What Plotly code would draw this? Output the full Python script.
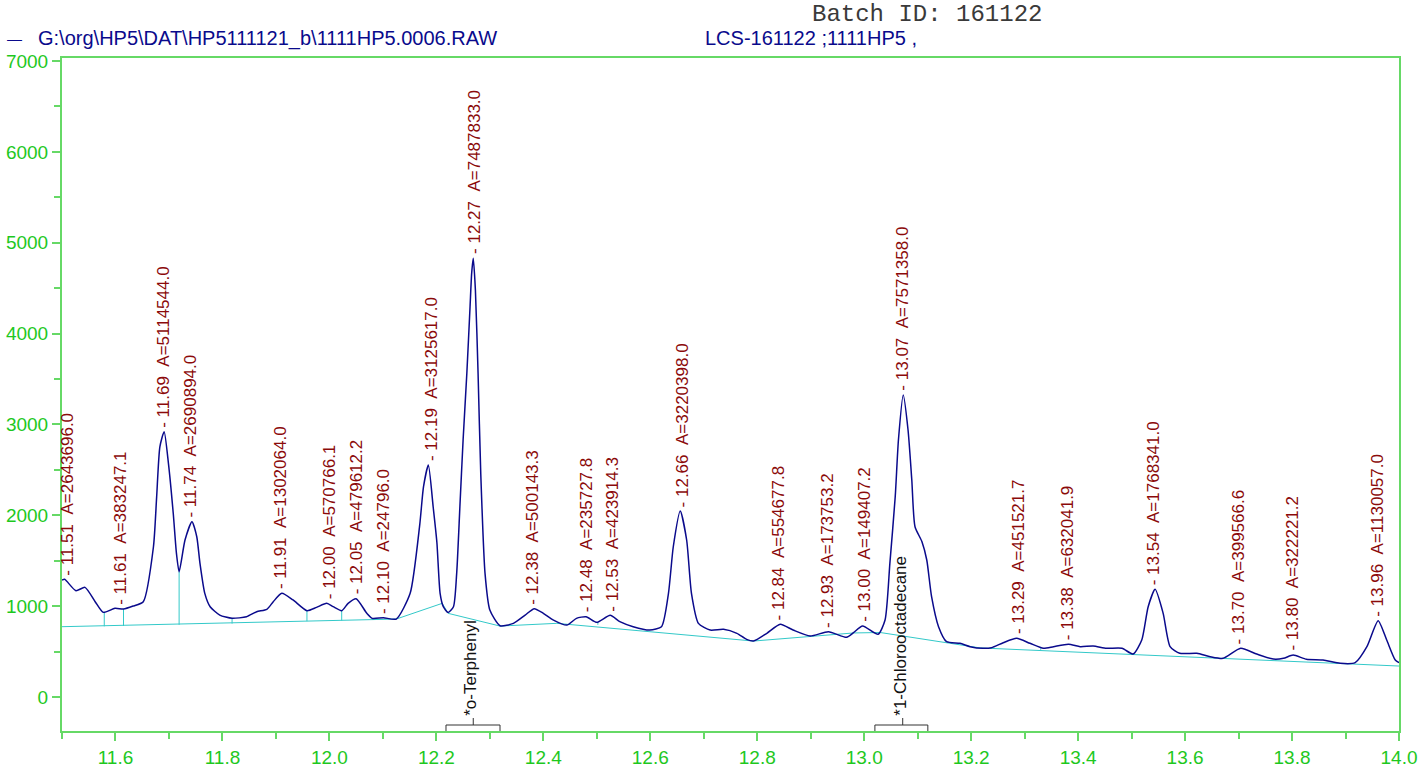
import plotly.graph_objects as go

# ---------------- data ----------------
time = [11.500, 11.505, 11.526, 11.543, 11.562, 11.577, 11.599, 11.615, 11.633, 11.652,
        11.671, 11.677, 11.683, 11.691, 11.699, 11.708, 11.714, 11.719, 11.730, 11.743,
        11.752, 11.758, 11.767, 11.777, 11.795, 11.818, 11.845, 11.864, 11.883, 11.895,
        11.911, 11.932, 11.958, 11.976, 11.995, 12.007, 12.023, 12.035, 12.050, 12.070,
        12.080, 12.101, 12.125, 12.151, 12.169, 12.176, 12.185, 12.194, 12.201, 12.207,
        12.213, 12.222, 12.232, 12.238, 12.244, 12.250, 12.257, 12.263, 12.266, 12.269,
        12.273, 12.278, 12.283, 12.291, 12.300, 12.319, 12.344, 12.366, 12.383, 12.400,
        12.419, 12.444, 12.462, 12.480, 12.500, 12.525, 12.543, 12.568, 12.599, 12.621,
        12.634, 12.643, 12.656, 12.668, 12.677, 12.690, 12.712, 12.737, 12.762, 12.780,
        12.793, 12.818, 12.843, 12.867, 12.899, 12.933, 12.967, 12.980, 12.997, 13.026,
        13.039, 13.048, 13.058, 13.064, 13.073, 13.082, 13.089, 13.095, 13.108, 13.117,
        13.126, 13.139, 13.154, 13.179, 13.198, 13.222, 13.238, 13.260, 13.285, 13.310,
        13.335, 13.354, 13.382, 13.404, 13.428, 13.453, 13.482, 13.503, 13.519, 13.531,
        13.544, 13.559, 13.572, 13.590, 13.622, 13.647, 13.671, 13.704, 13.734, 13.765,
        13.784, 13.802, 13.827, 13.858, 13.890, 13.918, 13.940, 13.961, 13.977, 13.993,
        14.000]
signal = [1287, 1295, 1170, 1207, 1049, 932, 976, 968, 1001, 1049,
          1654, 2204, 2754, 2920, 2572, 2022, 1581, 1379, 1728, 1930,
          1764, 1471, 1141, 994, 902, 866, 884, 939, 965, 1049,
          1141, 1068, 950, 987, 1031, 994, 950, 1031, 1082, 921,
          866, 873, 858, 1141, 1900, 2315, 2553, 2094, 1700, 1141,
          994, 930, 994, 1361, 2094, 2829, 3563, 4296, 4663, 4830,
          4479, 3563, 2462, 1361, 957, 785, 811, 902, 972, 921,
          847, 792, 866, 884, 822, 899, 829, 774, 737, 774,
          1141, 1654, 2047, 1728, 1141, 811, 737, 745, 701, 635,
          616, 701, 800, 737, 671, 719, 657, 708, 781, 690,
          847, 1471, 2204, 2829, 3324, 2939, 2388, 1874, 1709, 1508,
          1104, 774, 609, 591, 554, 536, 543, 598, 646, 591,
          536, 554, 580, 554, 561, 536, 536, 473, 627, 994,
          1185, 921, 554, 481, 481, 444, 426, 536, 473, 418,
          426, 462, 415, 407, 371, 378, 554, 840, 627, 407,
          378]

base_time = [11.500, 12.125, 12.211, 12.222, 12.319, 12.425, 12.793, 12.899, 12.980, 13.030, 13.217, 14.000]
base_signal = [774, 858, 1031, 921, 781, 811, 616, 664, 705, 710, 540, 341]

drop_time = [11.579, 11.615, 11.719, 11.818, 11.958, 12.023, 12.502, 12.899, 13.330, 13.770]
drop_top = [932, 968, 1379, 866, 950, 950, 822, 671, 536, 418]
drop_bottom = [778, 782, 795, 808, 835, 842, 795, 664, 520, 405]

peak_rt = [11.51, 11.61, 11.69, 11.74, 11.91, 12.00, 12.05, 12.10, 12.19, 12.27, 12.38, 12.48,
           12.53, 12.66, 12.84, 12.93, 13.00, 13.07, 13.29, 13.38, 13.54, 13.70, 13.80, 13.96]
peak_area = ["2643696.0", "383247.1", "5114544.0", "2690894.0", "1302064.0", "570766.1",
             "479612.2", "24796.0", "3125617.0", "7487833.0", "500143.3", "235727.8",
             "423914.3", "3220398.0", "554677.8", "173753.2", "149407.2", "7571358.0",
             "451521.7", "632041.9", "1768341.0", "399566.6", "322221.2", "1130057.0"]
peak_height = [1290, 975, 2920, 1930, 1141, 1031, 1082, 873, 2553, 4830, 972, 884,
               899, 2047, 800, 719, 781, 3324, 646, 580, 1185, 536, 462, 840]

compound_names = ["*o-Terphenyl", "*1-Chlorooctadecane"]
compound_rt = [12.269, 13.072]
compound_start = [12.218, 13.020]
compound_end = [12.319, 13.119]

x_ticks = [11.6, 11.8, 12.0, 12.2, 12.4, 12.6, 12.8, 13.0, 13.2, 13.4, 13.6, 13.8, 14.0]
y_ticks = [0, 1000, 2000, 3000, 4000, 5000, 6000, 7000]

header_file = "G:\\org\\HP5\\DAT\\HP5111121_b\\1111HP5.0006.RAW"
header_sample = "LCS-161122 ;1111HP5 ,"
header_batch = "Batch ID: 161122"

# ---------------- styling ----------------
W, H = 1426, 770
L, R, T, B = 62, 27, 58, 39
X_RANGE = [11.5, 14.0]
Y_RANGE = [-374, 7033]
AXIS_GREEN = "#66d966"
LABEL_GREEN = "#1ec81e"
NAVY = "#0a0a8c"
CYAN = "#33c9c9"
DARKRED = "#8b0a0a"
SANS = "Liberation Sans, Arial, sans-serif"

def px_to_paper_x(px):
    return (px - L) / (W - L - R)

def px_to_paper_y(py):
    return (H - B - py) / (H - T - B)

def px_to_data_y(py):
    plot_h = H - T - B
    return Y_RANGE[1] - (py - T) / plot_h * (Y_RANGE[1] - Y_RANGE[0])

fig = go.Figure()

# baseline
fig.add_trace(go.Scatter(x=base_time, y=base_signal, mode="lines",
                         line=dict(color=CYAN, width=1), hoverinfo="skip", showlegend=False))

# drop lines
dx, dy = [], []
for t, top, bot in zip(drop_time, drop_top, drop_bottom):
    dx += [t, t, None]
    dy += [bot, top, None]
fig.add_trace(go.Scatter(x=dx, y=dy, mode="lines",
                         line=dict(color=CYAN, width=1), hoverinfo="skip", showlegend=False))

# chromatogram
fig.add_trace(go.Scatter(x=time, y=signal, mode="lines",
                         line=dict(color=NAVY, width=1.5, shape="spline", smoothing=0.6),
                         showlegend=False))

annotations = []
for rt, area, h in zip(peak_rt, peak_area, peak_height):
    annotations.append(dict(
        x=rt, y=h, xref="x", yref="y", text=f"- {rt:.2f}\u00a0\u00a0A={area}",
        textangle=-90, xanchor="center", yanchor="bottom", showarrow=False,
        yshift=2, font=dict(family=SANS, size=17, color=DARKRED)))

shapes = []
y_brk = px_to_data_y(725)
y_axis_bot = Y_RANGE[0]
y_tick_top = px_to_data_y(718)
for name, rt, s, e in zip(compound_names, compound_rt, compound_start, compound_end):
    line = dict(color="#333333", width=1)
    shapes.append(dict(type="line", x0=s, x1=e, y0=y_brk, y1=y_brk, xref="x", yref="y", line=line))
    shapes.append(dict(type="line", x0=s, x1=s, y0=y_brk, y1=y_axis_bot, xref="x", yref="y", line=line))
    shapes.append(dict(type="line", x0=e, x1=e, y0=y_brk, y1=y_axis_bot, xref="x", yref="y", line=line))
    shapes.append(dict(type="line", x0=rt, x1=rt, y0=y_brk, y1=y_tick_top, xref="x", yref="y", line=line))
    annotations.append(dict(
        x=rt, y=y_tick_top, xref="x", yref="y", text=name, textangle=-90,
        xanchor="center", yanchor="bottom", showarrow=False, xshift=-3, yshift=0,
        font=dict(family=SANS, size=17, color="#111111")))

# header texts
annotations.append(dict(x=px_to_paper_x(5), y=px_to_paper_y(38), xref="paper", yref="paper",
                        text="\u2014", xanchor="left", yanchor="middle",
                        showarrow=False, font=dict(family=SANS, size=15, color=NAVY)))
annotations.append(dict(x=px_to_paper_x(36), y=px_to_paper_y(38), xref="paper", yref="paper",
                        text=header_file, xanchor="left", yanchor="middle",
                        showarrow=False, font=dict(family=SANS, size=20, color=NAVY)))
annotations.append(dict(x=px_to_paper_x(703), y=px_to_paper_y(38), xref="paper", yref="paper",
                        text=header_sample, xanchor="left", yanchor="middle",
                        showarrow=False, font=dict(family=SANS, size=20, color=NAVY)))
annotations.append(dict(x=px_to_paper_x(810), y=px_to_paper_y(14), xref="paper", yref="paper",
                        text=header_batch, xanchor="left", yanchor="middle",
                        showarrow=False, font=dict(family="Liberation Mono, Courier New, monospace",
                                                   size=24, color="#3a3a3a")))

fig.update_layout(
    width=W, height=H,
    margin=dict(l=L, r=R, t=T, b=B, pad=0, autoexpand=False),
    paper_bgcolor="white", plot_bgcolor="white",
    annotations=annotations, shapes=shapes,
    showlegend=False,
)
fig.update_xaxes(range=X_RANGE, tickvals=x_ticks, ticktext=[f"{v:.1f}" for v in x_ticks],
                 automargin=False,
                 showgrid=False, zeroline=False, showline=True, linecolor=AXIS_GREEN, linewidth=2,
                 mirror=True, ticks="outside", ticklen=8, tickcolor=AXIS_GREEN, tickwidth=1.5,
                 tickfont=dict(family=SANS, size=19, color=LABEL_GREEN),
                 minor=dict(dtick=0.1, tick0=11.5, ticks="outside", ticklen=6, tickcolor=AXIS_GREEN))
fig.update_yaxes(range=Y_RANGE, tickvals=y_ticks, ticktext=[str(v) for v in y_ticks],
                 automargin=False,
                 showgrid=False, zeroline=False, showline=True, linecolor=AXIS_GREEN, linewidth=2,
                 mirror=True, ticks="outside", ticklen=8, tickcolor=AXIS_GREEN, tickwidth=1.5,
                 tickfont=dict(family=SANS, size=19, color=LABEL_GREEN),
                 minor=dict(dtick=500, tick0=0, ticks="outside", ticklen=6, tickcolor=AXIS_GREEN))

fig.write_html("out.html", config={"displayModeBar": False},
               post_script="document.body.style.margin='0';document.body.style.overflow='hidden';")
